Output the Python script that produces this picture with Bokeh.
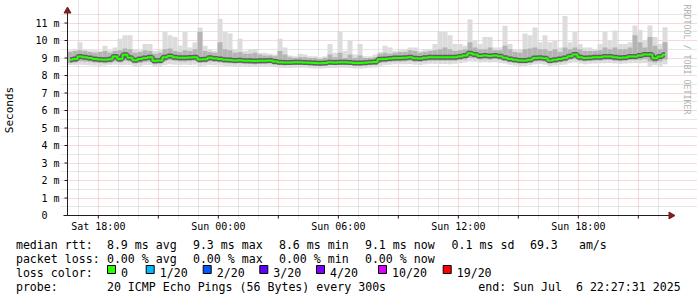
import datetime as dt
import math
from bokeh.plotting import figure
from bokeh.models import FixedTicker, DatetimeTickFormatter, Range1d, ColumnDataSource
from bokeh.layouts import column
from bokeh.embed import file_html
from bokeh.resources import INLINE
from bokeh.core.properties import value

# ---------------- data ----------------
START = dt.datetime(2025, 7, 5, 16, 27, 31)   # left edge of graph
STEP_MIN = 15                                  # one value per 15 minutes

median_ms = [
    8.90, 8.95, 9.08, 9.05, 9.00, 8.95, 8.92, 8.90, 8.93, 9.08,
    8.95, 9.18, 9.02, 8.87, 8.95, 9.00, 9.04, 8.84, 8.86, 9.05,
    9.12, 9.05, 9.02, 9.01, 9.03, 9.05, 8.92, 8.93, 9.01, 8.97,
    8.95, 8.90, 8.88, 8.86, 8.87, 8.85, 8.84, 8.83, 8.84, 8.85,
    8.86, 8.80, 8.76, 8.74, 8.75, 8.76, 8.76, 8.75, 8.73, 8.72,
    8.70, 8.72, 8.76, 8.75, 8.76, 8.76, 8.75, 8.72, 8.71, 8.73,
    8.76, 8.77, 8.93, 8.95, 8.97, 9.00, 9.00, 9.02, 9.05, 8.98,
    8.97, 9.02, 9.04, 9.05, 9.05, 9.05, 9.04, 9.05, 9.08, 9.15,
    9.27, 9.20, 9.12, 9.14, 9.12, 9.15, 9.10, 9.02, 8.95, 8.90,
    8.86, 8.86, 8.90, 9.00, 9.02, 8.98, 8.86, 8.90, 8.95, 9.00,
    9.10, 9.20, 9.05, 9.00, 9.02, 9.05, 9.05, 9.08, 9.09, 9.04,
    9.01, 9.03, 9.09, 9.09, 9.15, 9.20, 9.20, 8.98, 9.08, 9.18,
]
smoke_max = [
    9.45, 9.5, 9.9, 9.5, 9.45, 9.45, 9.4, 9.7, 9.45, 9.6,
    10.1, 10.3, 10.3, 9.5, 9.45, 9.8, 9.8, 9.4, 9.45, 10.5,
    10.3, 10.2, 9.7, 10.5, 9.6, 9.9, 10.75, 9.7, 9.5, 9.4,
    11.25, 10.5, 10.4, 9.5, 10.1, 9.4, 9.5, 9.5, 9.3, 9.3,
    9.25, 9.2, 10.1, 9.6, 9.15, 9.1, 9.25, 9.2, 9.1, 9.1,
    9.05, 9.1, 9.8, 9.3, 10.5, 9.4, 10.0, 9.2, 9.8, 9.1,
    9.1, 9.2, 9.35, 9.7, 9.6, 9.4, 9.45, 9.5, 9.6, 9.6,
    9.4, 9.5, 9.5, 9.8, 10.5, 10.5, 10.3, 9.8, 9.8, 9.7,
    11.2, 10.0, 9.8, 10.2, 10.2, 9.6, 9.6, 10.85, 9.8, 9.5,
    9.5, 10.4, 10.3, 10.75, 9.9, 10.3, 9.9, 10.0, 9.6, 11.4,
    9.9, 10.5, 9.8, 9.6, 9.6, 9.5, 9.8, 10.5, 10.0, 10.57,
    9.8, 9.8, 9.9, 10.86, 10.6, 10.0, 10.86, 10.2, 9.8, 10.76,
]
band_hi = [
    9.35, 9.4, 9.45, 9.4, 9.35, 9.3, 9.35, 9.4, 9.3, 9.4,
    9.45, 9.55, 9.5, 9.3, 9.35, 9.45, 9.4, 9.25, 9.3, 9.5,
    9.55, 9.4, 9.35, 9.45, 9.4, 9.5, 10.5, 9.4, 9.35, 9.3,
    9.9, 9.5, 9.45, 9.3, 9.35, 9.25, 9.25, 9.3, 9.2, 9.15,
    9.15, 9.1, 9.4, 9.2, 9.05, 9.0, 9.05, 9.05, 9.0, 9.0,
    8.95, 9.0, 9.2, 9.05, 9.3, 9.0, 9.2, 9.0, 9.15, 9.0,
    9.0, 9.05, 9.25, 9.3, 9.25, 9.3, 9.35, 9.35, 9.45, 9.4,
    9.3, 9.35, 9.4, 9.45, 9.5, 9.6, 9.5, 9.4, 9.45, 9.5,
    9.9, 9.6, 9.5, 9.5, 9.6, 9.45, 9.45, 9.7, 9.5, 9.35,
    9.3, 9.5, 9.55, 9.6, 9.5, 9.5, 9.4, 9.5, 9.35, 9.6,
    9.5, 9.6, 9.5, 9.4, 9.4, 9.4, 9.45, 9.6, 9.5, 9.6,
    9.5, 9.5, 9.6, 10.3, 9.9, 9.6, 10.2, 9.7, 9.5, 9.9,
]
band_lo = [
    8.72, 8.75, 8.82, 8.8, 8.78, 8.75, 8.72, 8.7, 8.73, 8.8,
    8.75, 8.85, 8.8, 8.68, 8.72, 8.78, 8.8, 8.65, 8.67, 8.82,
    8.88, 8.85, 8.8, 8.8, 8.82, 8.84, 8.72, 8.74, 8.8, 8.77,
    8.75, 8.72, 8.7, 8.68, 8.7, 8.68, 8.66, 8.65, 8.66, 8.67,
    8.68, 8.62, 8.6, 8.58, 8.6, 8.6, 8.6, 8.6, 8.58, 8.56,
    8.55, 8.57, 8.6, 8.6, 8.6, 8.6, 8.6, 8.57, 8.56, 8.58,
    8.6, 8.62, 8.72, 8.76, 8.78, 8.8, 8.8, 8.82, 8.84, 8.78,
    8.77, 8.82, 8.84, 8.85, 8.85, 8.84, 8.84, 8.85, 8.88, 8.92,
    9.0, 8.98, 8.92, 8.93, 8.92, 8.94, 8.9, 8.83, 8.76, 8.72,
    8.68, 8.68, 8.72, 8.8, 8.82, 8.78, 8.68, 8.72, 8.76, 8.8,
    8.9, 8.95, 8.85, 8.82, 8.84, 8.86, 8.86, 8.88, 8.88, 8.85,
    8.82, 8.84, 8.88, 8.88, 8.9, 8.95, 8.8, 8.75, 8.8, 8.92,
]
smoke_min = [
    8.6, 8.6, 8.62, 8.6, 8.58, 8.57, 8.55, 8.57, 8.6, 8.62,
    8.58, 8.6, 8.6, 8.52, 8.55, 8.6, 8.6, 8.5, 8.52, 8.6,
    8.65, 8.62, 8.6, 8.62, 8.6, 8.62, 8.55, 8.57, 8.6, 8.58,
    8.57, 8.55, 8.52, 8.5, 8.52, 8.5, 8.48, 8.5, 8.5, 8.5,
    8.52, 8.47, 8.45, 8.43, 8.43, 8.45, 8.45, 8.44, 8.42, 8.4,
    8.4, 8.42, 8.43, 8.43, 8.44, 8.45, 8.43, 8.4, 8.4, 8.42,
    8.45, 8.46, 8.55, 8.6, 8.62, 8.65, 8.64, 8.65, 8.66, 8.62,
    8.6, 8.65, 8.67, 8.67, 8.66, 8.66, 8.65, 8.67, 8.7, 8.75,
    8.8, 8.78, 8.75, 8.76, 8.75, 8.76, 8.72, 8.68, 8.62, 8.57,
    8.53, 8.55, 8.58, 8.65, 8.66, 8.62, 8.55, 8.57, 8.6, 8.63,
    8.7, 8.75, 8.68, 8.65, 8.67, 8.68, 8.7, 8.7, 8.72, 8.68,
    8.66, 8.68, 8.7, 8.72, 8.7, 8.72, 8.5, 8.6, 8.5, 8.65,
]

y_ticks = list(range(12))
y_tick_labels = ["0\u00a0\u00a0"] + ["%d m" % v for v in range(1, 12)]
x_label_times = [dt.datetime(2025, 7, 5, 18), dt.datetime(2025, 7, 6, 0),
                 dt.datetime(2025, 7, 6, 6), dt.datetime(2025, 7, 6, 12),
                 dt.datetime(2025, 7, 6, 18)]
x_major_grid_times = [dt.datetime(2025, 7, 5, 18) + dt.timedelta(hours=3 * k) for k in range(10)]
x_minor_grid_times = [dt.datetime(2025, 7, 5, 17) + dt.timedelta(hours=h) for h in range(30)]

legend_rows = [
    ["median rtt:", "8.9 ms avg", "9.3 ms max", "8.6 ms min", "9.1 ms now", "0.1 ms sd", "69.3", "am/s"],
    ["packet loss:", "0.00 % avg", "0.00 % max", "0.00 % min", "0.00 % now"],
]
loss_labels = ["0", "1/20", "2/20", "3/20", "4/20", "10/20", "19/20"]
loss_colors = ["#26ff00", "#00b8ff", "#0059ff", "#5e00ff", "#7e00ff", "#dd00ff", "#ff0000"]
probe_text = "20 ICMP Echo Pings (56 Bytes) every 300s"
end_text = "end: Sun Jul\u00a0\u00a06 22:27:31 2025"

# ---------------- geometry helpers ----------------
X0_PX, PX_PER_H = 67.0, 20.0
Y0_PX, PX_PER_MS = 215.0, 17.5
EPOCH = dt.datetime(1970, 1, 1)

def tx(px):
    return START + dt.timedelta(hours=(px - X0_PX) / PX_PER_H)

def ty(py):
    return (Y0_PX - py) / PX_PER_MS

def ms(t):
    return (t - EPOCH).total_seconds() * 1000.0

N = len(median_ms)
t_left = [START + dt.timedelta(minutes=STEP_MIN * i) for i in range(N)]
t_right = [START + dt.timedelta(minutes=STEP_MIN * (i + 1)) for i in range(N)]
t_mid = [START + dt.timedelta(minutes=STEP_MIN * i + STEP_MIN / 2) for i in range(N)]

src = ColumnDataSource(dict(l=t_left, r=t_right, m=t_mid, med=median_ms,
                            smax=smoke_max, smin=smoke_min, bhi=band_hi, blo=band_lo))

TOP_H = 236
FONT = "DejaVu Sans Mono"

p = figure(width=697, height=TOP_H, x_axis_type="datetime",
           x_range=Range1d(tx(60), tx(697)), y_range=Range1d(ty(219), ty(0)),
           output_backend="svg", toolbar_location=None, title=None,
           min_border_left=60, min_border_right=0, min_border_top=0,
           min_border_bottom=TOP_H - 219, frame_align=False,
           background_fill_color="white", border_fill_color="white",
           outline_line_color=None)

# grids
graph_top_ms = 11.52
p.xgrid.ticker = FixedTicker(ticks=[ms(t) for t in x_major_grid_times],
                             minor_ticks=[ms(t) for t in x_minor_grid_times if t.hour % 3 != 0])
p.ygrid.ticker = FixedTicker(ticks=list(range(1, 12)), minor_ticks=[k + 0.5 for k in range(12)])
for g in (p.xgrid, p.ygrid):
    g.grid_line_color = "#de4f4f"
    g.grid_line_alpha = 0.45
    g.grid_line_dash = "1 1"
    g.minor_grid_line_color = "#8f8f8f"
    g.minor_grid_line_alpha = 0.45
    g.minor_grid_line_dash = "1 1"
p.xgrid.bounds = (0, graph_top_ms)
p.ygrid.bounds = (ms(tx(67)), ms(tx(667)))

# axes (labels only)
p.yaxis.ticker = FixedTicker(ticks=y_ticks)
p.yaxis.major_label_overrides = {v: lab for v, lab in zip(y_ticks, y_tick_labels)}
p.yaxis.axis_line_color = None
p.yaxis.major_tick_line_color = None
p.yaxis.minor_tick_line_color = None
p.yaxis.major_tick_out = 0
p.yaxis.major_label_standoff = 1
p.yaxis.major_label_text_font = FONT
p.yaxis.major_label_text_font_size = "10px"
p.yaxis.major_label_text_color = "black"
p.yaxis.axis_label = "Seconds"
p.yaxis.axis_label_text_font = FONT
p.yaxis.axis_label_text_font_size = "11px"
p.yaxis.axis_label_text_font_style = "normal"
p.yaxis.axis_label_text_color = "black"
p.yaxis.axis_label_standoff = 16

fmt = "%a %H:%M"
p.xaxis.ticker = FixedTicker(ticks=[ms(t) for t in x_label_times])
p.xaxis.formatter = DatetimeTickFormatter(hours=fmt, hourmin=fmt, days=fmt, minutes=fmt,
                                          minsec=fmt, seconds=fmt, months=fmt, years=fmt)
p.xaxis.axis_line_color = None
p.xaxis.major_tick_line_color = None
p.xaxis.minor_tick_line_color = None
p.xaxis.major_tick_out = 0
p.xaxis.major_label_standoff = 1
p.xaxis.major_label_text_font = FONT
p.xaxis.major_label_text_font_size = "10px"
p.xaxis.major_label_text_color = "black"

# smoke
p.quad(left="l", right="r", bottom="smin", top="smax", source=src,
       fill_color="#dcdcdc", line_color=None)
p.quad(left="l", right="r", bottom="blo", top="bhi", source=src,
       fill_color="#b4b4b4", line_color=None)
p.step(x="m", y="med", source=src, mode="center", line_color="#3c3c3c",
       line_alpha=0.7, line_width=5)
p.step(x="m", y="med", source=src, mode="center", line_color="#26ff00", line_width=2)

# axis lines, ticks and arrows
AX = "#1f1f1f"
ARROW = "#801f1f"
p.segment(x0=[tx(67)], y0=[ty(215)], x1=[tx(67)], y1=[ty(11)], line_color=AX, line_width=1)
p.segment(x0=[tx(63)], y0=[ty(215)], x1=[tx(669)], y1=[ty(215)], line_color=AX, line_width=1)
p.segment(x0=[tx(64)] * 11, y0=list(range(1, 12)), x1=[tx(67)] * 11, y1=list(range(1, 12)),
          line_color=AX, line_width=1)
p.segment(x0=x_major_grid_times, y0=[ty(215)] * 10, x1=x_major_grid_times, y1=[ty(218)] * 10,
          line_color=AX, line_width=1)
p.scatter(x=[tx(67)], y=[ty(10.5)], marker="triangle", size=7, fill_color=ARROW,
          line_color=ARROW)
p.scatter(x=[tx(670.5)], y=[ty(215)], marker="triangle", angle=-math.pi / 2, size=7,
          fill_color=ARROW, line_color=ARROW)

# watermark
p.text(x=[tx(686.5)], y=[ty(4)], text=["RRDTOOL / TOBI OETIKER"], angle=-math.pi / 2,
       text_font=value(FONT), text_font_size="8.3px", text_color="#b0b0b0",
       text_align="left", text_baseline="middle")

# ---------------- legend block ----------------
BOT_H = 297 - TOP_H
q = figure(width=697, height=BOT_H, x_range=Range1d(0, 697), y_range=Range1d(BOT_H, 0),
           output_backend="svg", toolbar_location=None, title=None,
           x_axis_location=None, y_axis_location=None, min_border=0,
           min_border_left=0, min_border_right=0, frame_align=False,
           outline_line_color=None, background_fill_color="white",
           border_fill_color="white")
q.grid.visible = False

row_base = [8.3, 22.3, 36.3, 50.5]
row0_x = [16, 107, 193, 279, 365, 451.7, 530, 579]
row1_x = [16, 107, 193, 279, 365]
xs, ys, txts = [], [], []
for xx, tt in zip(row0_x, legend_rows[0]):
    xs.append(xx - 0.6); ys.append(row_base[0]); txts.append(tt)
for xx, tt in zip(row1_x, legend_rows[1]):
    xs.append(xx - 0.6); ys.append(row_base[1]); txts.append(tt)
xs.append(15.4); ys.append(row_base[2]); txts.append("loss color:")
sq_x = [107, 145.7, 202.7, 259.3, 316, 378, 442.7]
for sx, lab in zip(sq_x, loss_labels):
    xs.append(sx + 13.5); ys.append(row_base[2]); txts.append(lab)
xs += [15.4, 106.4, 477.7]
ys += [row_base[3]] * 3
txts += ["probe:", probe_text, end_text]

q.text(x=xs, y=ys, text=txts, text_font=value(FONT), text_font_size="11.6px",
       text_color="black", text_align="left", text_baseline="alphabetic")
q.quad(left=sq_x, right=[s + 8 for s in sq_x], top=[29.0] * 7, bottom=[37.0] * 7,
       fill_color=loss_colors, line_color="black", line_width=1)

layout = column(p, q, spacing=0)
open("out.html", "w").write(file_html(layout, INLINE))
